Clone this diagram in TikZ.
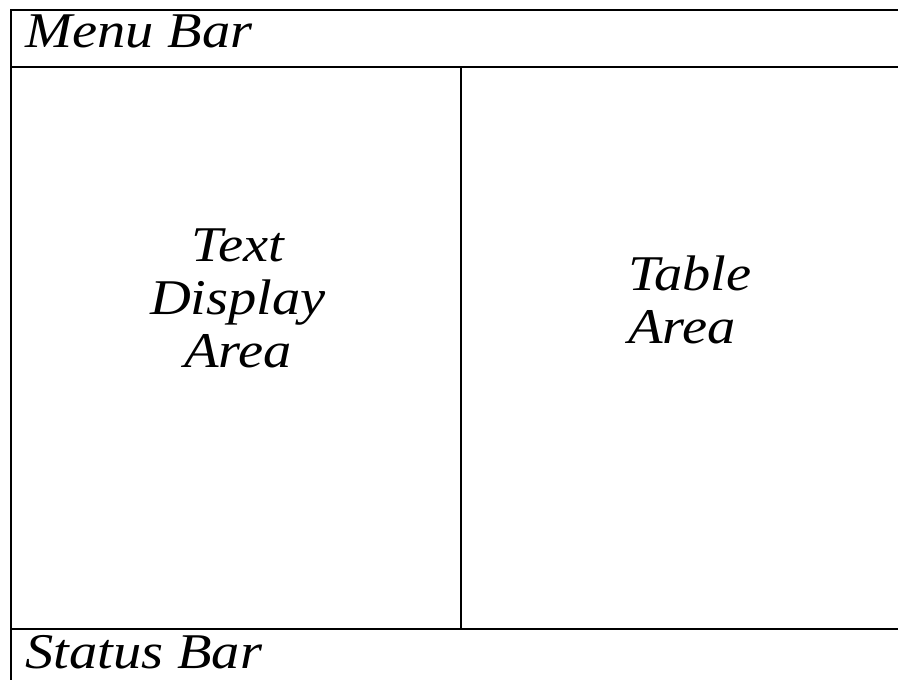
\documentclass[tikz,border=0pt]{standalone}
\usepackage{fontspec}
\setmainfont{Liberation Serif}
\newfontfamily\widefont[FakeStretch=1.13]{Liberation Serif}
\begin{document}
\begin{tikzpicture}[x=1pt,y=-1pt,
  rule/.style={line width=1.2pt,black},
  lbl/.style={inner sep=0pt,font=\widefont\fontsize{50}{53}\selectfont\itshape}]
\useasboundingbox (0,0) rectangle (898,680);
\coordinate (tl) at (11,10);
\coordinate (tr) at (898,10);
\coordinate (bl) at (11,680);
\coordinate (ml) at (11,67);
\coordinate (mr) at (898,67);
\coordinate (sl) at (11,629);
\coordinate (sr) at (898,629);
\coordinate (dt) at (461,67);
\coordinate (db) at (461,629);
\draw[rule] (tr) -- (tl) -- (bl);
\draw[rule] (ml) -- (mr);
\draw[rule] (sl) -- (sr);
\draw[rule] (dt) -- (db);
\node[lbl,anchor=base west] (menu) at (25,47) {Menu Bar};
\node[lbl,anchor=base west] (status) at (25,668) {Status Bar};
\node[lbl,anchor=base,align=center] (text) at (238,367) {Text\\Display\\Area};
\node[lbl,anchor=base west,align=left] (table) at (628,343) {Table\\Area};
\end{tikzpicture}
\end{document}
